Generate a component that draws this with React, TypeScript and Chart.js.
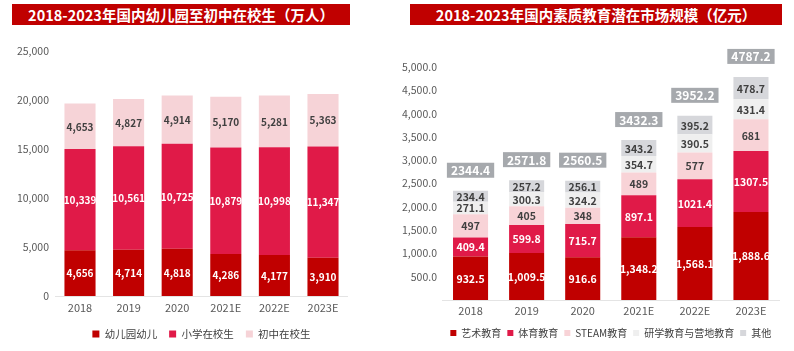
import React, { useEffect, useRef } from 'react';
import { Chart, registerables } from 'chart.js';

Chart.register(...registerables);

const FONT = "'Noto Sans CJK SC', 'Noto Sans', sans-serif";

// ---- Left chart data (万人) ----
const years = ['2018', '2019', '2020', '2021E', '2022E', '2023E'];
const kindergarten = [4656, 4714, 4818, 4286, 4177, 3910];
const primary = [10339, 10561, 10725, 10879, 10998, 11347];
const juniorHigh = [4653, 4827, 4914, 5170, 5281, 5363];

// ---- Right chart data (亿元) ----
const art = [932.5, 1009.5, 916.6, 1348.2, 1568.1, 1888.6];
const sports = [409.4, 599.8, 715.7, 897.1, 1021.4, 1307.5];
const steam = [497, 405, 348, 489, 577, 681];
const studyCamp = [271.1, 300.3, 324.2, 354.7, 390.5, 431.4];
const others = [234.4, 257.2, 256.1, 343.2, 395.2, 478.7];
const marketTotals = ['2344.4', '2571.8', '2560.5', '3432.3', '3952.2', '4787.2'];

type Fmt = (v: number, dsIndex: number) => string;

function makeLabelPlugin(format: Fmt, labelSize: number, totals?: string[]) {
  return {
    id: 'segLabels',
    afterDatasetsDraw(chart: any) {
      const ctx = chart.ctx;
      ctx.save();
      ctx.textAlign = 'center';
      ctx.textBaseline = 'middle';
      ctx.font = `bold ${labelSize}px ${FONT}`;
      chart.data.datasets.forEach((ds: any, i: number) => {
        const meta = chart.getDatasetMeta(i);
        meta.data.forEach((el: any, j: number) => {
          const { x, y, base } = el.getProps(['x', 'y', 'base'], true);
          ctx.fillStyle = ds.labelColor;
          ctx.fillText(format(ds.data[j], i), x, (y + base) / 2 + 0.5);
        });
      });
      if (totals) {
        const last = chart.getDatasetMeta(chart.data.datasets.length - 1);
        ctx.font = `bold 12px ${FONT}`;
        last.data.forEach((el: any, j: number) => {
          const { x, y } = el.getProps(['x', 'y'], true);
          const text = totals[j];
          const w = ctx.measureText(text).width + 8;
          const h = 15;
          const bottom = y - 13;
          ctx.fillStyle = '#A6A9AD';
          ctx.fillRect(x - w / 2, bottom - h, w, h);
          ctx.fillStyle = '#FFFFFF';
          ctx.fillText(text, x, bottom - h / 2 + 0.5);
        });
      }
      ctx.restore();
    },
  };
}

interface Props {
  width: number;
  height: number;
  datasets: any[];
  max: number;
  step: number;
  tickFmt: (v: number) => string | null;
  yWidth: number;
  chartRight: number;
  chartTop: number;
  padBottom: number;
  xHeight: number;
  xPad: number;
  yPad: number;
  legendPad: number;
  legendFont: number;
  legendBox: number;
  labelSize: number;
  barPct: number;
  format: Fmt;
  totals?: string[];
}

function StackedBar(p: Props) {
  const ref = useRef<HTMLCanvasElement | null>(null);
  useEffect(() => {
    if (!ref.current) return;
    const chart = new Chart(ref.current, {
      type: 'bar',
      data: { labels: years, datasets: p.datasets },
      options: {
        responsive: false,
        animation: false,
        devicePixelRatio: 1,
        layout: { padding: { left: 0, right: p.width - p.chartRight, top: p.chartTop, bottom: p.padBottom } },
        datasets: { bar: { barPercentage: p.barPct, categoryPercentage: 1, borderWidth: 0 } },
        scales: {
          x: {
            stacked: true,
            grid: { display: false, drawTicks: false },
            border: { display: true, color: '#E4E4E4', width: 1 },
            ticks: { color: '#595959', font: { family: FONT, size: 11 }, padding: p.xPad },
            afterFit: (s: any) => { s.height = p.xHeight; },
          },
          y: {
            stacked: true,
            min: 0,
            max: p.max,
            grid: { display: false, drawTicks: false },
            border: { display: false },
            ticks: {
              stepSize: p.step,
              color: '#595959',
              font: { family: FONT, size: 10.5 },
              padding: p.yPad,
              callback: (v: any) => p.tickFmt(Number(v)),
            },
            afterFit: (s: any) => { s.width = p.yWidth; },
          },
        },
        plugins: {
          legend: {
            position: 'bottom',
            fullSize: false,
            labels: {
              boxWidth: p.legendBox,
              boxHeight: p.legendBox,
              padding: p.legendPad,
              color: '#404040',
              font: { family: FONT, size: p.legendFont },
            },
          },
          tooltip: { enabled: false },
        },
      } as any,
      plugins: [makeLabelPlugin(p.format, p.labelSize, p.totals)],
    });
    return () => chart.destroy();
  }, []);
  return <canvas ref={ref} width={p.width} height={p.height} style={{ width: p.width, height: p.height, display: 'block' }} />;
}

const titleStyle: React.CSSProperties = {
  position: 'absolute',
  top: 4,
  height: 21,
  lineHeight: '21px',
  background: '#C00000',
  color: '#FFFFFF',
  fontFamily: FONT,
  fontWeight: 700,
  fontSize: 14.5,
  textAlign: 'center',
  zIndex: 2,
  whiteSpace: 'nowrap',
};

export default function App() {
  const leftDatasets = [
    { label: '幼儿园幼儿', data: kindergarten, backgroundColor: '#C00000', labelColor: '#FFFFFF' },
    { label: '小学在校生', data: primary, backgroundColor: '#E01A48', labelColor: '#FFFFFF' },
    { label: '初中在校生', data: juniorHigh, backgroundColor: '#F6D3D7', labelColor: '#404040' },
  ];
  const rightDatasets = [
    { label: '艺术教育', data: art, backgroundColor: '#C00000', labelColor: '#FFFFFF' },
    { label: '体育教育', data: sports, backgroundColor: '#E01A48', labelColor: '#FFFFFF' },
    { label: 'STEAM教育', data: steam, backgroundColor: '#F8D3D7', labelColor: '#404040' },
    { label: '研学教育与营地教育', data: studyCamp, backgroundColor: '#EFEFEF', labelColor: '#404040' },
    { label: '其他', data: others, backgroundColor: '#D6D7DB', labelColor: '#404040' },
  ];
  return (
    <div style={{ position: 'absolute', left: 0, top: 0, width: 794, height: 351, background: '#FFFFFF', overflow: 'hidden' }}>
      <div style={{ ...titleStyle, left: 12, width: 338 }}>2018-2023年国内幼儿园至初中在校生（万人）</div>
      <div style={{ ...titleStyle, left: 410, width: 372 }}>2018-2023年国内素质教育潜在市场规模（亿元）</div>
      <div style={{ position: 'absolute', left: 0, top: 0 }}>
        <StackedBar
          width={400}
          height={351}
          datasets={leftDatasets}
          max={25000}
          step={5000}
          tickFmt={(v) => v.toLocaleString('en-US')}
          yWidth={55.7}
          chartRight={347.3}
          chartTop={51}
          padBottom={1.75}
          xHeight={20.75}
          xPad={5.4}
          yPad={6.7}
          legendPad={12}
          legendFont={10.5}
          legendBox={7}
          labelSize={10}
          barPct={0.64}
          format={(v) => v.toLocaleString('en-US')}
        />
      </div>
      <div style={{ position: 'absolute', left: 400, top: 0 }}>
        <StackedBar
          width={394}
          height={351}
          datasets={rightDatasets}
          max={5500}
          step={500}
          tickFmt={(v) => (v === 0 || v > 5000 ? null : v.toLocaleString('en-US', { minimumFractionDigits: 1, maximumFractionDigits: 1 }))}
          yWidth={42.5}
          chartRight={379}
          chartTop={43.7}
          padBottom={3}
          xHeight={22}
          xPad={4.7}
          yPad={5.5}
          legendPad={6}
          legendFont={10}
          legendBox={6}
          labelSize={10.5}
          barPct={0.625}
          format={(v, i) => (i === 0 ? v.toLocaleString('en-US', { minimumFractionDigits: 1, maximumFractionDigits: 1 }) : String(v))}
          totals={marketTotals}
        />
      </div>
    </div>
  );
}
